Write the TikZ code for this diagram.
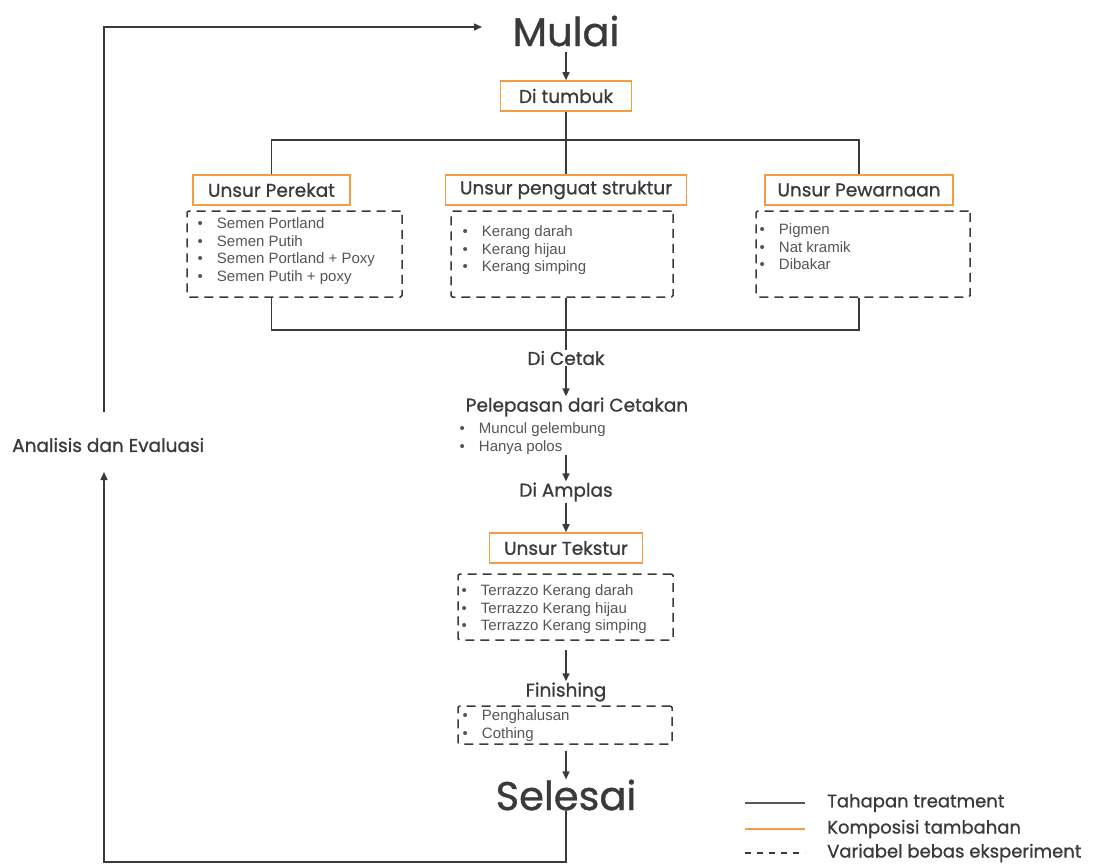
\documentclass[tikz,border=0pt]{standalone}
\usepackage{fontspec}
\setmainfont{Liberation Sans}
\newfontfamily\headfont{Poppins}[FakeBold=0.9]
\usetikzlibrary{arrows.meta}
\definecolor{inkgray}{HTML}{3A3A3A}
\definecolor{compo}{HTML}{F39C43}
\definecolor{listgray}{HTML}{555555}
\newcommand{\bul}{\textbullet\hspace{14pt}}

\begin{document}
\begin{tikzpicture}[x=1pt, y=-1pt,
    treat/.style={draw=inkgray, line width=1.4pt},
    flow/.style={treat, -{Triangle[length=8pt,width=7pt]}},
    compobox/.style={draw=compo, line width=1.6pt, minimum height=30pt, inner sep=0pt,
      text=inkgray, font=\headfont\fontsize{18.5}{21}\selectfont},
    varbox/.style={draw=inkgray, line width=1.5pt, dash pattern=on 9pt off 6pt,
      rounded corners=1.5pt, inner sep=0pt},
    items/.style={align=left, anchor=north west, inner sep=0pt, text=listgray,
      font=\fontsize{15}{17.7}\selectfont},
    stage/.style={text=inkgray, inner sep=1pt, font=\headfont\fontsize{18.5}{21}\selectfont},
    bigstage/.style={text=inkgray, inner sep=0pt, font=\headfont\fontsize{40}{44}\selectfont},
    legend/.style={text=inkgray, anchor=west, inner sep=0pt, font=\headfont\fontsize{18}{20}\selectfont}
  ]
  \useasboundingbox (0,0) rectangle (1100,864);

  % Start and first treatment
  \node[bigstage] (mulai) at (566,31) {Mulai};
  \node[compobox, minimum width=131pt] (tumbuk) at (566,96) {Di tumbuk};
  \draw[flow, shorten <=5pt] (mulai) -- (tumbuk);

  % Three composition groups
  \node[compobox, minimum width=157pt] (perekat) at (271.5,190) {Unsur Perekat};
  \node[compobox, minimum width=241pt] (penguat) at (566,190) {Unsur penguat struktur};
  \node[compobox, minimum width=188pt] (pewarna) at (859,190) {Unsur Pewarnaan};

  \node[varbox, minimum width=215pt, minimum height=86pt] (var1) at (294.5,254) {};
  \node[varbox, minimum width=222pt, minimum height=86pt] (var2) at (562,254) {};
  \node[varbox, minimum width=214pt, minimum height=86pt] (var3) at (863,254) {};

  \node[items] (list1) at (197.5,217.5)
    {\bul Semen Portland\\\bul Semen Putih\\\bul Semen Portland + Poxy\\\bul Semen Putih + poxy};
  \node[items] (list2) at (462.5,225.5)
    {\bul Kerang darah\\\bul Kerang hijau\\\bul Kerang simping};
  \node[items] (list3) at (759.5,223.5)
    {\bul Pigmen\\\bul Nat kramik\\\bul Dibakar};

  \coordinate (split) at (566,140);
  \draw[treat] (tumbuk) -- (split);
  \draw[treat] (split) -| (perekat);
  \draw[treat] (split) -- (penguat);
  \draw[treat] (split) -| (pewarna);

  % Moulding
  \node[stage] (cetak) at (566,358) {Di Cetak};
  \coordinate (join) at (566,330);
  \draw[treat] (perekat |- var1.south) |- (join);
  \draw[treat] (pewarna |- var3.south) |- (join);
  \draw[treat] (join |- var2.south) -- (cetak);

  \node[stage] (lepas) at (577,407) {Pelepasan dari Cetakan};
  \node[items] (lepasList) at (459.5,422.5) {\bul Muncul gelembung\\\bul Hanya polos};
  \draw[flow] (cetak) -- (cetak |- lepas.north);

  \node[stage] (amplas) at (566,492) {Di Amplas};
  \draw[flow] (lepasList.south -| amplas) -- (amplas);

  % Texture
  \node[compobox, minimum width=153pt] (tekstur) at (566,548) {Unsur Tekstur};
  \draw[flow] (amplas) -- (tekstur);
  \node[varbox, minimum width=215pt, minimum height=66pt] (tekVar) at (565.5,607) {};
  \node[items] (tekList) at (461.5,584.5)
    {\bul Terrazzo Kerang darah\\\bul Terrazzo Kerang hijau\\\bul Terrazzo Kerang simping};

  % Finishing
  \node[stage] (finish) at (566,692) {Finishing};
  \draw[flow, shorten <=9pt] (tekVar.south -| finish) -- (finish);
  \node[varbox, minimum width=214pt, minimum height=38pt] (finVar) at (565,725) {};
  \node[items] (finList) at (462.5,709.5) {\bul Penghalusan\\\bul Cothing};

  \node[bigstage] (selesai) at (566,795) {Selesai};
  \draw[flow, shorten <=6pt] (finVar.south -| selesai) -- (selesai);

  % Evaluation loop
  \node[stage, anchor=west] (analisis) at (11,445) {Analisis dan Evaluasi};
  \coordinate (back) at (104,862);
  \coordinate (evalLow) at (104,472);
  \coordinate (evalHigh) at (104,412);
  \coordinate (loopEnd) at (482,27);
  \draw[flow] (selesai) |- (back) -- (evalLow);
  \draw[flow] (evalHigh) |- (loopEnd);

  % Legend
  \draw[treat, draw=inkgray!85] (745,803) -- (805,803);
  \draw[draw=compo, line width=1.6pt] (745,829) -- (805,829);
  \draw[treat, dash pattern=on 6pt off 6pt] (745,853) -- (805,853);
  \node[legend] (lgTreat) at (827,803) {Tahapan treatment};
  \node[legend] (lgCompo) at (827,829) {Komposisi tambahan};
  \node[legend] (lgVar) at (827,853) {Variabel bebas eksperiment};
\end{tikzpicture}
\end{document}
